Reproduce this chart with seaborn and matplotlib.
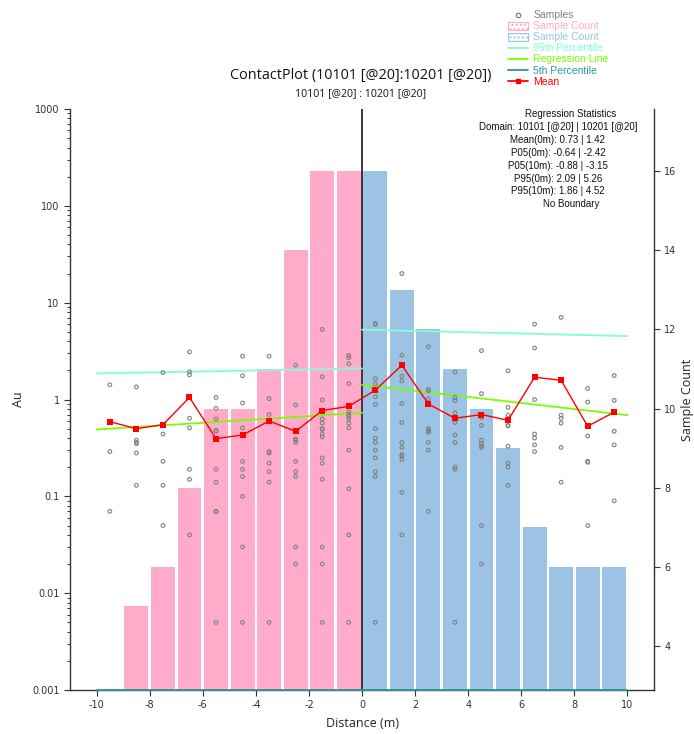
import numpy as np
import pandas as pd
import matplotlib
matplotlib.use("Agg")
import matplotlib.pyplot as plt
from matplotlib.lines import Line2D
from matplotlib.patches import Patch
import seaborn as sns

sns.set_style("white")
plt.rcParams["font.family"] = ["DejaVu Sans"]
plt.rcParams["axes.unicode_minus"] = False

# ---- data -------------------------------------------------------------
# sample count per 1 m bin on each side of the contact
left_centres = [-8.5, -7.5, -6.5, -5.5, -4.5, -3.5, -2.5, -1.5, -0.5]
left_counts = [5, 6, 8, 10, 10, 11, 14, 16, 16]
right_centres = [0.5, 1.5, 2.5, 3.5, 4.5, 5.5, 6.5, 7.5, 8.5, 9.5]
right_counts = [16, 13, 12, 11, 10, 9, 7, 6, 6, 6]

# individual Au assays grouped by distance from the contact
sample_centres = [-9.5, -8.5, -7.5, -6.5, -5.5, -4.5, -3.5, -2.5, -1.5, -0.5,
                  0.5, 1.5, 2.5, 3.5, 4.5, 5.5, 6.5, 7.5, 8.5, 9.5]
sample_values = [
    [1.42, 0.29, 0.07],
    [1.35, 0.38, 0.36, 0.35, 0.28, 0.13],
    [1.9, 0.44, 0.23, 0.13, 0.05],
    [3.1, 1.93, 1.8, 0.64, 0.51, 0.19, 0.15, 0.04],
    [1.05, 0.81, 0.63, 0.48, 0.47, 0.19, 0.14, 0.07, 0.069, 0.005],
    [2.8, 1.76, 0.92, 0.51, 0.23, 0.19, 0.16, 0.10, 0.03, 0.005],
    [2.8, 1.02, 0.70, 0.29, 0.28, 0.22, 0.18, 0.14, 0.005],
    [2.26, 0.88, 0.39, 0.38, 0.36, 0.23, 0.18, 0.16, 0.03, 0.02],
    [5.3, 1.72, 0.99, 0.63, 0.57, 0.50, 0.49, 0.44, 0.41, 0.25, 0.22, 0.15,
     0.03, 0.02, 0.005],
    [2.85, 2.7, 2.34, 1.46, 0.74, 0.70, 0.67, 0.63, 0.57, 0.51, 0.30, 0.12,
     0.04, 0.005],
    [6.1, 6.0, 1.64, 1.45, 1.07, 0.89, 0.50, 0.40, 0.36, 0.30, 0.25, 0.18,
     0.16, 0.005],
    [20.0, 2.87, 1.74, 1.56, 0.91, 0.58, 0.36, 0.32, 0.27, 0.26, 0.24, 0.11,
     0.04],
    [3.5, 1.27, 1.23, 1.02, 0.50, 0.49, 0.47, 0.46, 0.36, 0.30, 0.07],
    [1.92, 1.05, 0.98, 0.73, 0.62, 0.58, 0.43, 0.36, 0.20, 0.19, 0.005],
    [3.2, 1.15, 0.65, 0.54, 0.38, 0.35, 0.33, 0.32, 0.05, 0.02],
    [1.98, 0.83, 0.69, 0.54, 0.535, 0.33, 0.22, 0.20, 0.13],
    [6.0, 3.4, 1.0, 0.44, 0.40, 0.34, 0.29],
    [7.05, 0.69, 0.64, 0.57, 0.32, 0.14],
    [1.30, 0.94, 0.42, 0.23, 0.225, 0.05],
    [1.77, 0.98, 0.47, 0.34, 0.09],
]

# mean Au per bin
mean_x = sample_centres
mean_au = [0.59, 0.50, 0.55, 1.05, 0.395, 0.43, 0.60, 0.47, 0.77, 0.85,
           1.25, 2.26, 0.90, 0.64, 0.70, 0.61, 1.70, 1.58, 0.53, 0.74]

# regression / percentile lines (value at each end of the domain)
left_x = [-10, 0]
right_x = [0, 10]
reg_left = [0.49, 0.73]
reg_right = [1.42, 0.69]
p95_left = [1.86, 2.09]
p95_right = [5.26, 4.52]

stats_lines = [
    "Regression Statistics",
    "Domain: 10101 [@20] | 10201 [@20]",
    "Mean(0m): 0.73 | 1.42",
    "P05(0m): -0.64 | -2.42",
    "P05(10m): -0.88 | -3.15",
    "P95(0m): 2.09 | 5.26",
    "P95(10m): 1.86 | 4.52",
    "No Boundary",
]

# ---- styling ----------------------------------------------------------
PINK = "#FFABC9"
BLUE = "#9DC3E4"
AQUA = "#7FFFD4"
GREEN = "#7CFC00"
TEAL = "#2A9A9A"
RED = "#FF0000"
GREY = "#808080"

samples = pd.DataFrame({
    "distance": np.repeat(sample_centres, [len(v) for v in sample_values]),
    "au": np.concatenate([np.asarray(v, float) for v in sample_values]),
})
left_bars = pd.DataFrame({"distance": left_centres, "count": left_counts})
right_bars = pd.DataFrame({"distance": right_centres, "count": right_counts})

fig = plt.figure(figsize=(6.94, 7.34), dpi=100)
ax = fig.add_axes([0.1009, 0.0599, 0.8415, 0.7916])
ax2 = ax.twinx()

# sample count bars on the secondary axis
sns.barplot(data=left_bars, x="distance", y="count", native_scale=True,
            width=0.9, color=PINK, saturation=1, errorbar=None,
            linewidth=0, ax=ax2)
sns.barplot(data=right_bars, x="distance", y="count", native_scale=True,
            width=0.9, color=BLUE, saturation=1, errorbar=None,
            linewidth=0, ax=ax2)
ax2.set_xlim(-11, 11)
ax2.set_ylim(2.886, 17.57)
ax2.set_yticks([4, 6, 8, 10, 12, 14, 16])
ax2.set_ylabel("Sample Count", fontsize=9, family="Open Sans", labelpad=3,
               color="#222222")

# keep the Au axis above the bars
ax.set_zorder(ax2.get_zorder() + 1)
ax.patch.set_visible(False)

ax.set_yscale("log")
ax.set_ylim(0.001, 1000)
ax.set_xlim(-11, 11)

# contact line
ax.axvline(0, color="black", lw=1.1, zorder=2)

# percentile and regression lines
sns.lineplot(x=left_x, y=p95_left, color=AQUA, lw=1.3, ax=ax)
sns.lineplot(x=right_x, y=p95_right, color=AQUA, lw=1.3, ax=ax)
sns.lineplot(x=left_x, y=reg_left, color=GREEN, lw=1.3, ax=ax)
sns.lineplot(x=right_x, y=reg_right, color=GREEN, lw=1.3, ax=ax)
# 5th percentile falls below the log range, drawn along the lower edge
ax.plot([-10, 10], [0.001, 0.001], color=TEAL, lw=1.3, clip_on=False,
        zorder=3)

# individual samples
sns.scatterplot(data=samples, x="distance", y="au", marker="o", s=7,
                facecolors="none", edgecolor=GREY, linewidth=0.8, ax=ax,
                zorder=4)

# mean line
sns.lineplot(x=mean_x, y=mean_au, color=RED, lw=1.0, marker="s",
             markersize=4.5, markeredgewidth=0, ax=ax, zorder=5)

ax.set_xticks(np.arange(-10, 11, 2))
ax.set_xlabel("Distance (m)", fontsize=9, family="Open Sans", labelpad=5,
              color="#222222")
ax.set_ylabel("Au", fontsize=9, family="Open Sans", labelpad=5,
              color="#222222")
ax.set_yticks([0.001, 0.01, 0.1, 1, 10, 100, 1000])
ax.set_yticklabels(["0.001", "0.01", "0.1", "1", "10", "100", "1000"])

for a in (ax, ax2):
    for s in a.spines.values():
        s.set_visible(False)
ax.spines["left"].set_visible(True)
ax.spines["bottom"].set_visible(True)
ax2.spines["right"].set_visible(True)
for s in (ax.spines["left"], ax.spines["bottom"], ax2.spines["right"]):
    s.set_color("#333333")
    s.set_linewidth(1.0)

ax.tick_params(axis="both", which="major", direction="out", length=4,
               width=0.8, labelsize=7, colors="#333333", left=True,
               bottom=True)
ax.tick_params(axis="y", which="minor", direction="out", length=2.5,
               width=0.7, colors="#333333", left=True)
ax2.tick_params(axis="y", direction="out", length=4, width=0.8,
                labelsize=7, colors="#333333", right=True)
ax2.tick_params(axis="x", bottom=False, labelbottom=False)
ax2.set_xlabel("")
ax.grid(False)
ax2.grid(False)

# titles
fig.text(0.52, 1 - 76 / 734, "ContactPlot (10101 [@20]:10201 [@20])",
         ha="center", va="center", fontsize=10.4, family="Open Sans",
         color="#111111")
fig.text(0.52, 1 - 94 / 734, "10101 [@20] : 10201 [@20]", ha="center",
         va="center", fontsize=7.6, family="Open Sans", color="#111111")

# regression statistics block
stat_y0 = 114
for i, line in enumerate(stats_lines):
    cx = 571 if i in (0, len(stats_lines) - 1) else 558
    fig.text(cx / 694, 1 - (stat_y0 + i * 12.9) / 734, line, ha="center",
             va="center", fontsize=7, family="Liberation Sans",
             color="#111111")

# legend
handles = [
    Line2D([], [], ls="none", marker="o", markersize=3.2,
           markerfacecolor="none", markeredgecolor=GREY, markeredgewidth=0.9),
    Patch(facecolor="white", edgecolor=PINK, hatch="....", lw=0.8),
    Patch(facecolor="white", edgecolor=BLUE, hatch="....", lw=0.8),
    Line2D([], [], color=AQUA, lw=1.3),
    Line2D([], [], color=GREEN, lw=1.3),
    Line2D([], [], color=TEAL, lw=1.3),
    Line2D([], [], color=RED, lw=1.3, marker="s", markersize=2.5),
]
labels = ["Samples", "Sample Count", "Sample Count", "95th Percentile",
          "Regression Line", "5th Percentile", "Mean"]
leg = fig.legend(handles, labels, loc="upper left",
                 bbox_to_anchor=(501 / 694, 1 - 3 / 734), frameon=False,
                 prop={"family": "Liberation Sans", "size": 7.5},
                 labelspacing=0.1, handlelength=1.9, handleheight=0.75,
                 handletextpad=0.5, borderpad=0.2)
for txt, c in zip(leg.get_texts(),
                  [GREY, PINK, BLUE, AQUA, GREEN, TEAL, RED]):
    txt.set_color(c)

fig.savefig("out.png", dpi=100)
